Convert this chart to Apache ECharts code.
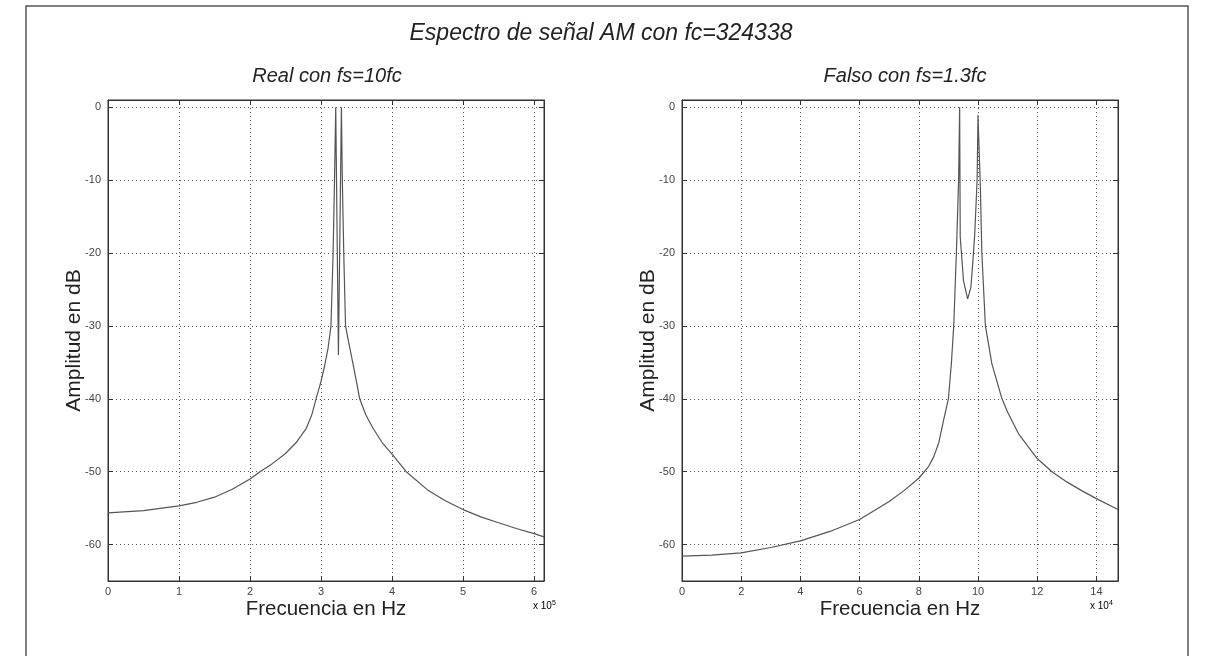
<!DOCTYPE html>
<html>
<head>
<meta charset="utf-8">
<script src="https://cdn.jsdelivr.net/npm/echarts@6/dist/echarts.min.js"></script>
<style>
html,body{margin:0;padding:0;background:#fff;}
#chart{width:1214px;height:656px;}
</style>
</head>
<body>
<div id="chart"></div>
<script>
// ---- Data ----
const mainTitle = 'Espectro de señal AM con fc=324338';
const leftTitle = 'Real con fs=10fc';
const rightTitle = 'Falso con fs=1.3fc';
const xName = 'Frecuencia en Hz';
const yName = 'Amplitud en dB';

// Left panel: frequency in Hz, amplitude in dB
const realFreq = [0, 50000, 100000, 125000, 150000, 175000, 200000, 214000, 230000, 250000, 265000, 279000, 287000, 293000, 300000, 305000, 310000, 314000, 317000, 319000, 320700, 324500, 328700, 330000, 332000, 334500, 339000, 343000, 349000, 354500, 363000, 373000, 386000, 400000, 420000, 450000, 475000, 500000, 525000, 550000, 575000, 600000, 614000];
const realAmp  = [-55.65, -55.35, -54.7, -54.2, -53.5, -52.4, -51.0, -50.0, -49.0, -47.5, -46.0, -44.1, -42.2, -40.0, -37.6, -35.5, -33.0, -30.0, -20.0, -10.0, 0.0, -34.0, 0.0, -10.0, -20.0, -30.0, -32.3, -34.2, -37.2, -40.0, -42.2, -44.0, -46.0, -47.6, -50.0, -52.5, -54.0, -55.2, -56.2, -57.0, -57.8, -58.5, -58.95];

// Right panel
const falsoFreq = [0, 10000, 20000, 30000, 40000, 50000, 60000, 70000, 75000, 80000, 83300, 85000, 86700, 88400, 90000, 91000, 91800, 92700, 93450, 93800, 94000, 95100, 96500, 97600, 98300, 98900, 99700, 100000, 100800, 101300, 102500, 104700, 108100, 110000, 113700, 117000, 120000, 125000, 130000, 135000, 140000, 147300];
const falsoAmp  = [-61.6, -61.45, -61.14, -60.4, -59.5, -58.2, -56.57, -54.1, -52.6, -50.9, -49.3, -48.0, -46.1, -42.9, -40.0, -35.2, -30.0, -20.0, -10.0, 0.0, -17.8, -23.8, -26.3, -24.7, -21.0, -17.4, -10.0, -1.1, -11.0, -20.0, -30.0, -35.2, -40.0, -41.8, -44.8, -46.6, -48.2, -50.0, -51.4, -52.6, -53.7, -55.2];

const realTicks = [0, 100000, 200000, 300000, 400000, 500000, 600000];
const falsoTicks = [0, 20000, 40000, 60000, 80000, 100000, 120000, 140000];
const ampTicks = [-60, -50, -40, -30, -20, -10, 0];
const realXMax = 614000;
const falsoXMax = 147300;
const ampMin = -65, ampMax = 1;

// ---- Chart ----
const chart = echarts.init(document.getElementById('chart'));
const FONT = '"Liberation Sans", Arial, Helvetica, sans-serif';
const gridLine = {show: true, lineStyle: {color: '#555', type: [1, 3], width: 1}};
const frameColor = '#333';

function xAxes(gridIndex, max, ticks, scale) {
  return [
    {
      type: 'value', gridIndex, position: 'bottom', min: 0, max,
      name: xName, nameLocation: 'middle', nameGap: 18, nameMoveOverlap: false,
      nameTextStyle: {fontFamily: FONT, fontSize: 20.5, color: '#222'},
      axisLine: {show: true, onZero: false, lineStyle: {color: frameColor}},
      axisTick: {show: true, inside: true, length: 5, customValues: ticks, lineStyle: {color: frameColor}},
      axisLabel: {show: true, customValues: ticks, margin: 5, fontFamily: FONT, fontSize: 11, color: '#444',
        formatter: v => String(Math.round(v / scale))},
      splitLine: gridLine
    },
    {
      type: 'value', gridIndex, position: 'top', min: 0, max,
      axisLine: {show: true, onZero: false, lineStyle: {color: frameColor}},
      axisTick: {show: true, inside: true, length: 5, customValues: ticks, lineStyle: {color: frameColor}},
      axisLabel: {show: false},
      splitLine: {show: false}
    }
  ];
}
function yAxes(gridIndex) {
  return [
    {
      type: 'value', gridIndex, position: 'left', min: ampMin, max: ampMax,
      name: yName, nameLocation: 'middle', nameGap: 23, nameMoveOverlap: false,
      nameTextStyle: {fontFamily: FONT, fontSize: 21, color: '#222'},
      axisLine: {show: true, onZero: false, lineStyle: {color: frameColor}},
      axisTick: {show: true, inside: true, length: 5, customValues: ampTicks, lineStyle: {color: frameColor}},
      axisLabel: {show: true, customValues: ampTicks, margin: 7, fontFamily: FONT, fontSize: 11, color: '#444'},
      splitLine: gridLine
    },
    {
      type: 'value', gridIndex, position: 'right', min: ampMin, max: ampMax,
      axisLine: {show: true, onZero: false, lineStyle: {color: frameColor}},
      axisTick: {show: true, inside: true, length: 5, customValues: ampTicks, lineStyle: {color: frameColor}},
      axisLabel: {show: false},
      splitLine: {show: false}
    }
  ];
}

const option = {
  animation: false,
  backgroundColor: '#fff',
  title: [
    {text: mainTitle, left: 596, top: 17, textAlign: 'center',
      textStyle: {fontFamily: FONT, fontSize: 23, fontStyle: 'italic', fontWeight: 'normal', color: '#222'}},
    {text: leftTitle, left: 322, top: 61, textAlign: 'center',
      textStyle: {fontFamily: FONT, fontSize: 20, fontStyle: 'italic', fontWeight: 'normal', color: '#222'}},
    {text: rightTitle, left: 900, top: 61, textAlign: 'center',
      textStyle: {fontFamily: FONT, fontSize: 20, fontStyle: 'italic', fontWeight: 'normal', color: '#222'}}
  ],
  grid: [
    {left: 108, top: 100, width: 436, height: 481, show: true, borderColor: frameColor, borderWidth: 1, backgroundColor: '#fff'},
    {left: 682, top: 100, width: 436, height: 481, show: true, borderColor: frameColor, borderWidth: 1, backgroundColor: '#fff'}
  ],
  xAxis: [...xAxes(0, realXMax, realTicks, 1e5), ...xAxes(1, falsoXMax, falsoTicks, 1e4)],
  yAxis: [...yAxes(0), ...yAxes(1)],
  graphic: [
    {type: 'rect', shape: {x: 26, y: 6, width: 1162, height: 700}, style: {fill: 'none', stroke: '#555', lineWidth: 1.5}, silent: true, z: -10},
    {type: 'text', left: 533, top: 600, style: {text: '{a|x 10}{b|5}', rich: {a: {fontFamily: FONT, fontSize: 10, color: '#444'}, b: {fontFamily: FONT, fontSize: 7, color: '#444', verticalAlign: 'top', padding: [0,0,6,0]}}}},
    {type: 'text', left: 1090, top: 600, style: {text: '{a|x 10}{b|4}', rich: {a: {fontFamily: FONT, fontSize: 10, color: '#444'}, b: {fontFamily: FONT, fontSize: 7, color: '#444', verticalAlign: 'top', padding: [0,0,6,0]}}}}
  ],
  series: [
    {type: 'line', xAxisIndex: 0, yAxisIndex: 0, showSymbol: false, symbol: 'none',
      lineStyle: {color: '#555', width: 1.2}, data: realFreq.map((f, i) => [f, realAmp[i]])},
    {type: 'line', xAxisIndex: 2, yAxisIndex: 2, showSymbol: false, symbol: 'none',
      lineStyle: {color: '#555', width: 1.2}, data: falsoFreq.map((f, i) => [f, falsoAmp[i]])}
  ]
};
chart.setOption(option);
</script>
</body>
</html>
